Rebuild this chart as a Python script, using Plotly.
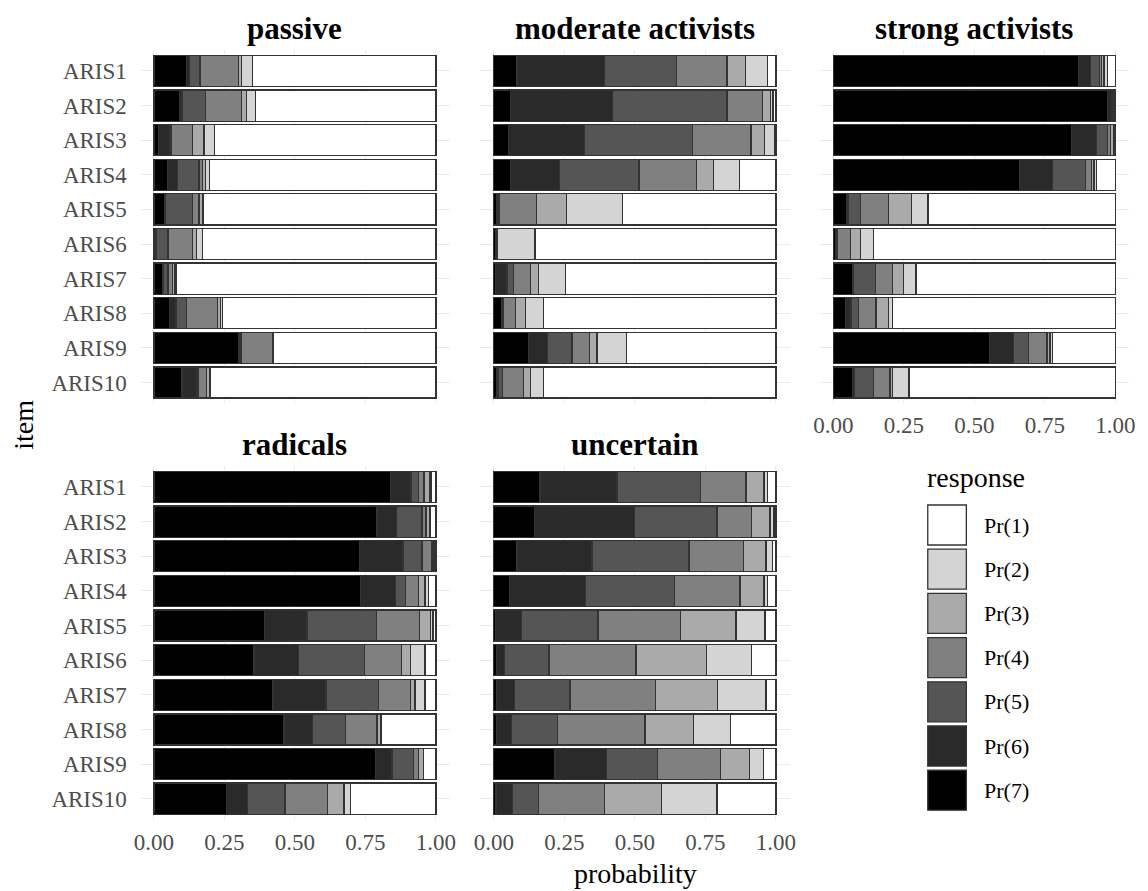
import plotly.graph_objects as go

W, H = 1148, 891

items = ["ARIS1", "ARIS2", "ARIS3", "ARIS4", "ARIS5",
         "ARIS6", "ARIS7", "ARIS8", "ARIS9", "ARIS10"]
responses = ["Pr(1)", "Pr(2)", "Pr(3)", "Pr(4)", "Pr(5)", "Pr(6)", "Pr(7)"]
fills = ["#ffffff", "#d4d4d4", "#aaaaaa", "#808080", "#555555", "#2a2a2a", "#000000"]
x_ticks = [0, 0.25, 0.5, 0.75, 1.0]
x_ticklabels = ["0.00", "0.25", "0.50", "0.75", "1.00"]

# each row: probabilities Pr(1) ... Pr(7) for ARIS1 ... ARIS10
passive = [
    [0.650, 0.040, 0.010, 0.137, 0.038, 0.010, 0.115],
    [0.640, 0.032, 0.018, 0.127, 0.083, 0.010, 0.090],
    [0.785, 0.038, 0.040, 0.077, 0.005, 0.039, 0.016],
    [0.802, 0.014, 0.013, 0.011, 0.076, 0.035, 0.049],
    [0.824, 0.002, 0.014, 0.024, 0.096, 0.003, 0.037],
    [0.828, 0.022, 0.014, 0.086, 0.040, 0.005, 0.005],
    [0.922, 0.006, 0.007, 0.015, 0.015, 0.005, 0.030],
    [0.758, 0.006, 0.010, 0.110, 0.038, 0.023, 0.055],
    [0.575, 0.003, 0.002, 0.110, 0.005, 0.005, 0.300],
    [0.800, 0.004, 0.010, 0.028, 0.005, 0.053, 0.100],
]
moderate = [
    [0.030, 0.078, 0.065, 0.180, 0.255, 0.310, 0.082],
    [0.010, 0.008, 0.029, 0.126, 0.406, 0.363, 0.058],
    [0.005, 0.036, 0.047, 0.207, 0.383, 0.269, 0.053],
    [0.129, 0.091, 0.061, 0.204, 0.281, 0.176, 0.058],
    [0.544, 0.199, 0.105, 0.132, 0.005, 0.005, 0.010],
    [0.854, 0.134, 0.001, 0.001, 0.002, 0.003, 0.005],
    [0.746, 0.096, 0.029, 0.059, 0.023, 0.042, 0.005],
    [0.825, 0.064, 0.035, 0.041, 0.005, 0.001, 0.029],
    [0.529, 0.105, 0.027, 0.062, 0.087, 0.067, 0.123],
    [0.825, 0.046, 0.024, 0.075, 0.015, 0.005, 0.010],
]
strong = [
    [0.028, 0.012, 0.010, 0.005, 0.032, 0.044, 0.869],
    [0.001, 0.001, 0.002, 0.003, 0.005, 0.016, 0.972],
    [0.002, 0.003, 0.011, 0.012, 0.039, 0.088, 0.845],
    [0.067, 0.008, 0.009, 0.021, 0.118, 0.117, 0.660],
    [0.664, 0.058, 0.082, 0.100, 0.041, 0.006, 0.049],
    [0.857, 0.047, 0.035, 0.046, 0.005, 0.002, 0.008],
    [0.707, 0.045, 0.037, 0.062, 0.077, 0.002, 0.070],
    [0.789, 0.015, 0.044, 0.062, 0.027, 0.020, 0.043],
    [0.222, 0.010, 0.010, 0.065, 0.053, 0.087, 0.553],
    [0.731, 0.058, 0.010, 0.058, 0.068, 0.008, 0.067],
]
radicals = [
    [0.018, 0.005, 0.019, 0.020, 0.027, 0.073, 0.838],
    [0.019, 0.002, 0.014, 0.015, 0.091, 0.068, 0.791],
    [0.005, 0.005, 0.005, 0.035, 0.067, 0.153, 0.730],
    [0.027, 0.012, 0.023, 0.047, 0.035, 0.123, 0.733],
    [0.010, 0.009, 0.040, 0.152, 0.246, 0.150, 0.393],
    [0.039, 0.052, 0.030, 0.132, 0.235, 0.157, 0.355],
    [0.039, 0.035, 0.017, 0.112, 0.187, 0.188, 0.422],
    [0.195, 0.002, 0.012, 0.111, 0.117, 0.102, 0.461],
    [0.043, 0.002, 0.017, 0.018, 0.076, 0.059, 0.785],
    [0.302, 0.024, 0.059, 0.150, 0.133, 0.074, 0.258],
]
uncertain = [
    [0.030, 0.012, 0.064, 0.161, 0.296, 0.273, 0.164],
    [0.007, 0.014, 0.065, 0.123, 0.293, 0.354, 0.144],
    [0.012, 0.023, 0.080, 0.193, 0.344, 0.266, 0.082],
    [0.030, 0.012, 0.085, 0.232, 0.316, 0.270, 0.055],
    [0.039, 0.102, 0.197, 0.293, 0.272, 0.092, 0.005],
    [0.086, 0.160, 0.250, 0.308, 0.157, 0.029, 0.010],
    [0.035, 0.171, 0.220, 0.304, 0.196, 0.064, 0.010],
    [0.162, 0.129, 0.173, 0.310, 0.164, 0.052, 0.010],
    [0.045, 0.049, 0.103, 0.223, 0.181, 0.182, 0.217],
    [0.209, 0.197, 0.201, 0.235, 0.091, 0.059, 0.008],
]

FONT = "Liberation Serif"
TICK_SIZE = 23
TITLE_SIZE = 28


def px(x):
    return x / W


def py(y):
    return 1 - y / H


# panel layout: (title, data, x0 px of value 0, pixels per unit, top px, bottom px, show y labels, show x labels)
panels = [
    ("passive", passive, 149.5, 285, 50.2, 403.2, True, False),
    ("moderate activists", moderate, 493, 285, 50.2, 403.2, False, False),
    ("strong activists", strong, 836, 285, 50.2, 403.2, False, True),
    ("radicals", radicals, 149.5, 285, 466.2, 819.5, True, True),
    ("uncertain", uncertain, 493, 285, 466.2, 819.5, False, True),
]

fig = go.Figure()
layout = dict()
annotations = []

for i, (title, data, x0, ppu, top, bot, showy, showx) in enumerate(panels):
    n = i + 1
    xa = "x" if n == 1 else f"x{n}"
    ya = "y" if n == 1 else f"y{n}"
    for k in range(6, -1, -1):
        fig.add_trace(go.Bar(
            y=items,
            x=[row[k] for row in data],
            orientation="h",
            name=responses[k],
            marker=dict(color=fills[k], line=dict(color="#333333", width=1.3)),
            xaxis=xa, yaxis=ya,
            showlegend=False,
        ))
    d0 = x0 - 0.05 * ppu
    d1 = x0 + 1.05 * ppu
    layout["xaxis" if n == 1 else f"xaxis{n}"] = dict(
        domain=[px(d0), px(d1)], range=[-0.05, 1.05], anchor=ya,
        tickvals=x_ticks, ticktext=x_ticklabels, showticklabels=showx,
        tickfont=dict(family=FONT, size=TICK_SIZE, color="#4d4d4d"),
        ticks="", ticklabelstandoff=6,
        showgrid=True, gridcolor="#ebebeb", gridwidth=1,
        zeroline=False, showline=False, fixedrange=True,
    )
    layout["yaxis" if n == 1 else f"yaxis{n}"] = dict(
        domain=[py(bot), py(top)], anchor=xa, type="category",
        categoryorder="array", categoryarray=items, range=[9.6, -0.6],
        showticklabels=showy,
        tickfont=dict(family=FONT, size=TICK_SIZE, color="#4d4d4d"),
        ticks="", ticklabelstandoff=12,
        showgrid=True, gridcolor="#ebebeb", gridwidth=1,
        zeroline=False, showline=False, fixedrange=True,
    )
    annotations.append(dict(
        text=f"<b>{title}</b>", x=px(x0 + 0.5 * ppu), y=py(top - 22),
        xref="paper", yref="paper", xanchor="center", yanchor="middle",
        showarrow=False, font=dict(family=FONT, size=31, color="black"),
    ))

# axis titles
annotations.append(dict(
    text="probability", x=px(636), y=py(873), xref="paper", yref="paper",
    xanchor="center", yanchor="middle", showarrow=False,
    font=dict(family=FONT, size=TITLE_SIZE, color="black"),
))
annotations.append(dict(
    text="item", x=px(18), y=py(425), xref="paper", yref="paper",
    xanchor="center", yanchor="middle", showarrow=False, textangle=-90,
    font=dict(family=FONT, size=TITLE_SIZE, color="black"),
))

# legend (drawn manually in the empty facet slot)
shapes = []
annotations.append(dict(
    text="response", x=px(929), y=py(477), xref="paper", yref="paper",
    xanchor="left", yanchor="middle", showarrow=False,
    font=dict(family=FONT, size=TITLE_SIZE, color="black"),
))
for i, lab in enumerate(responses):
    y0 = 505 + 44.2 * i
    shapes.append(dict(
        type="rect", xref="paper", yref="paper",
        x0=px(931.5), x1=px(970.5), y0=py(y0), y1=py(y0 + 40),
        fillcolor=fills[i], line=dict(color="#333333", width=1.3),
    ))
    annotations.append(dict(
        text=lab, x=px(986), y=py(y0 + 20), xref="paper", yref="paper",
        xanchor="left", yanchor="middle", showarrow=False,
        font=dict(family=FONT, size=22, color="black"),
    ))

fig.update_layout(
    width=W, height=H, margin=dict(l=0, r=0, t=0, b=0),
    paper_bgcolor="white", plot_bgcolor="white",
    barmode="stack", bargap=0.1,
    annotations=annotations, shapes=shapes,
    font=dict(family=FONT),
    **layout,
)

fig.write_html("out.html")
